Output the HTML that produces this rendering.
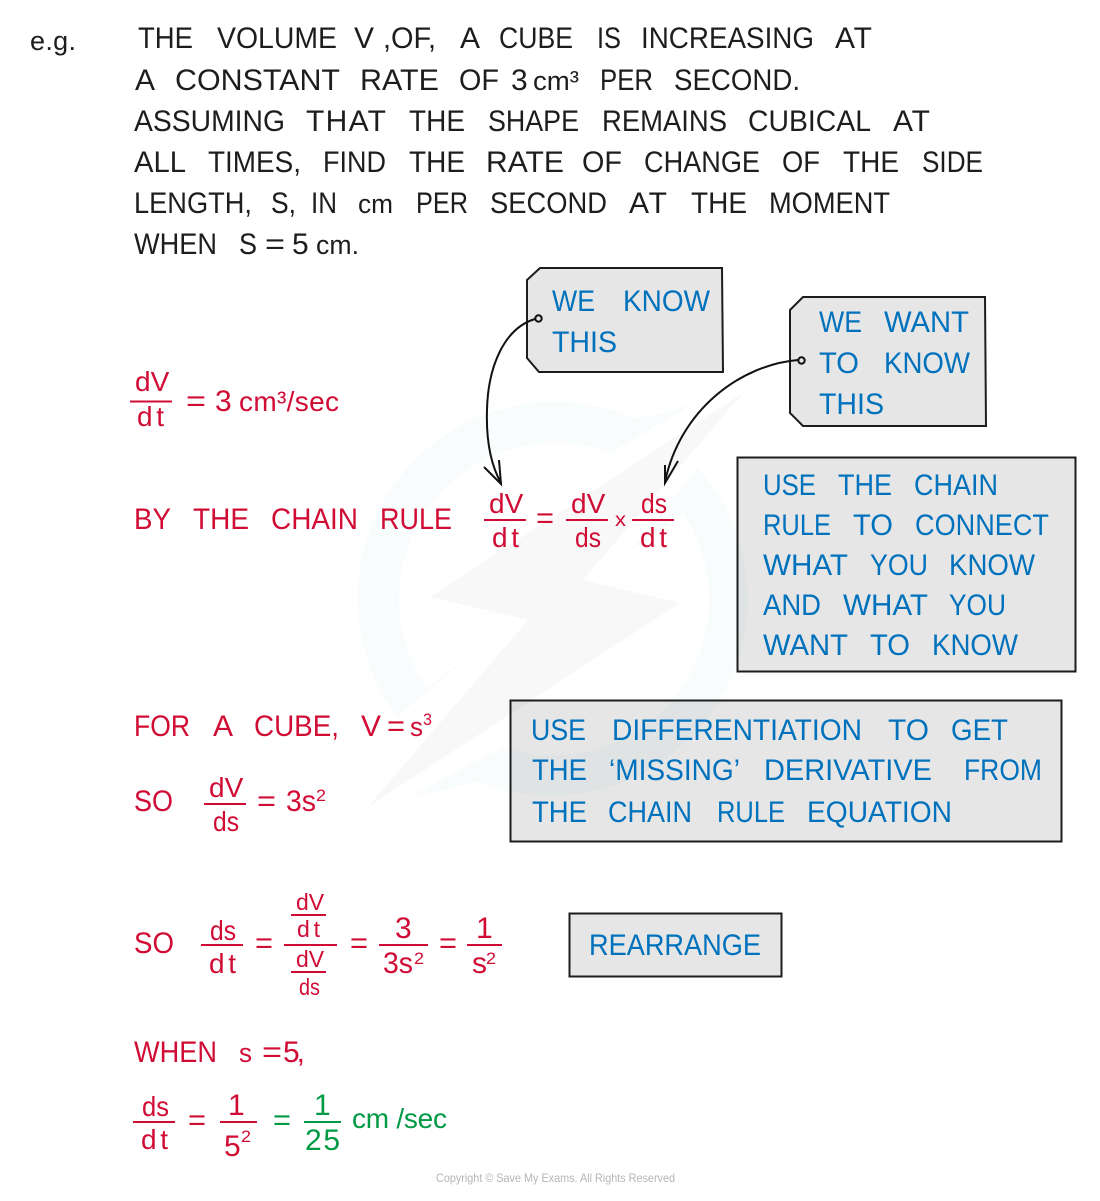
<!DOCTYPE html>
<html>
<head>
<meta charset="utf-8">
<style>
html,body{margin:0;padding:0;background:#fff;}
svg{display:block;}
text{font-family:"Liberation Sans",sans-serif;font-size:30px;transform:translate(0,-1px);}
.k text{fill:#1d1d1b;}
.b text{fill:#0071bc;}
.r text{fill:#d00c35;}
.g text{fill:#009a44;}
.r line{stroke:#d00c35;stroke-width:2;}
.g line{stroke:#009a44;stroke-width:2;}
.box{fill:#e6e6e6;stroke:#1d1d1b;stroke-width:2;}
.s{font-size:17px;}
</style>
</head>
<body>
<svg width="1100" height="1201" viewBox="0 0 1100 1201" xmlns="http://www.w3.org/2000/svg">
<rect width="1100" height="1201" fill="#fff"/>

<!-- problem text -->
<g class="k">
<text x="30" y="51" textLength="46" lengthAdjust="spacing" style="font-size:27px">e.g.</text>
<text x="138" y="49" textLength="55" lengthAdjust="spacingAndGlyphs">THE</text>
<text x="217" y="49" textLength="120" lengthAdjust="spacingAndGlyphs">VOLUME</text>
<text x="354" y="49">V</text>
<text x="383" y="49" textLength="53" lengthAdjust="spacingAndGlyphs">,OF,</text>
<text x="460" y="49">A</text>
<text x="499" y="49" textLength="74" lengthAdjust="spacingAndGlyphs">CUBE</text>
<text x="597" y="49" textLength="24" lengthAdjust="spacingAndGlyphs">IS</text>
<text x="641" y="49" textLength="173" lengthAdjust="spacingAndGlyphs">INCREASING</text>
<text x="835" y="49" textLength="37" lengthAdjust="spacing">AT</text>

<text x="135" y="91">A</text>
<text x="175" y="91" textLength="165" lengthAdjust="spacingAndGlyphs">CONSTANT</text>
<text x="360" y="91" textLength="79" lengthAdjust="spacingAndGlyphs">RATE</text>
<text x="459" y="91" textLength="40" lengthAdjust="spacingAndGlyphs">OF</text>
<text x="511" y="91">3</text>
<text x="533" y="91" textLength="46" lengthAdjust="spacingAndGlyphs" style="font-size:27px">cm³</text>
<text x="600" y="91" textLength="53" lengthAdjust="spacingAndGlyphs">PER</text>
<text x="674" y="91" textLength="126" lengthAdjust="spacingAndGlyphs">SECOND.</text>

<text x="134" y="132" textLength="151" lengthAdjust="spacingAndGlyphs">ASSUMING</text>
<text x="306" y="132" textLength="80" lengthAdjust="spacing">THAT</text>
<text x="409" y="132" textLength="56" lengthAdjust="spacingAndGlyphs">THE</text>
<text x="488" y="132" textLength="91" lengthAdjust="spacingAndGlyphs">SHAPE</text>
<text x="602" y="132" textLength="125" lengthAdjust="spacingAndGlyphs">REMAINS</text>
<text x="748" y="132" textLength="123" lengthAdjust="spacingAndGlyphs">CUBICAL</text>
<text x="893" y="132" textLength="37" lengthAdjust="spacing">AT</text>

<text x="134" y="173" textLength="52" lengthAdjust="spacingAndGlyphs">ALL</text>
<text x="208" y="173" textLength="93" lengthAdjust="spacingAndGlyphs">TIMES,</text>
<text x="323" y="173" textLength="63" lengthAdjust="spacingAndGlyphs">FIND</text>
<text x="409" y="173" textLength="56" lengthAdjust="spacingAndGlyphs">THE</text>
<text x="486" y="173" textLength="78" lengthAdjust="spacingAndGlyphs">RATE</text>
<text x="582" y="173" textLength="40" lengthAdjust="spacingAndGlyphs">OF</text>
<text x="644" y="173" textLength="116" lengthAdjust="spacingAndGlyphs">CHANGE</text>
<text x="782" y="173" textLength="38" lengthAdjust="spacingAndGlyphs">OF</text>
<text x="843" y="173" textLength="56" lengthAdjust="spacingAndGlyphs">THE</text>
<text x="922" y="173" textLength="61" lengthAdjust="spacingAndGlyphs">SIDE</text>

<text x="134" y="214" textLength="118" lengthAdjust="spacingAndGlyphs">LENGTH,</text>
<text x="271" y="214" textLength="25" lengthAdjust="spacingAndGlyphs">S,</text>
<text x="311" y="214" textLength="26" lengthAdjust="spacingAndGlyphs">IN</text>
<text x="358" y="214" textLength="35" lengthAdjust="spacingAndGlyphs" style="font-size:27px">cm</text>
<text x="416" y="214" textLength="52" lengthAdjust="spacingAndGlyphs">PER</text>
<text x="490" y="214" textLength="117" lengthAdjust="spacingAndGlyphs">SECOND</text>
<text x="629" y="214" textLength="38" lengthAdjust="spacing">AT</text>
<text x="691" y="214" textLength="56" lengthAdjust="spacingAndGlyphs">THE</text>
<text x="769" y="214" textLength="121" lengthAdjust="spacingAndGlyphs">MOMENT</text>

<text x="134" y="255" textLength="83" lengthAdjust="spacingAndGlyphs">WHEN</text>
<text x="239" y="255" textLength="18" lengthAdjust="spacingAndGlyphs">S</text>
<text x="265" y="255" textLength="20" lengthAdjust="spacingAndGlyphs">=</text>
<text x="292" y="255">5</text>
<text x="316" y="255" textLength="43" lengthAdjust="spacingAndGlyphs" style="font-size:27px">cm.</text>
</g>

<!-- boxes -->
<polygon class="box" points="527,280 540,268 722,268 723,372 539,372 527,358"/>
<polygon class="box" points="790,310 803,297 985,297 986,426 803,426 790,413"/>
<rect class="box" x="737.5" y="457.5" width="338" height="214"/>
<rect class="box" x="510.5" y="700.5" width="551" height="141"/>
<rect class="box" x="569.5" y="913.5" width="212" height="63"/>

<!-- watermark -->
<path d="M397,717 L483,645 L427,688 A156,156 0 0 1 610,453 L700,400 Q665,415 633,418 A197,197 0 0 0 397,717 Z" fill="#0071bc" fill-opacity=".022"/>
<path d="M628,553 L698,468 A197,197 0 0 1 478,782 L407,798 L503,747 A156,156 0 0 0 683,513 Z" fill="#0071bc" fill-opacity=".022"/>
<polygon points="743,393 430,597 528,620 368,807 680,603 583,580" fill="#000" fill-opacity=".028"/>

<!-- connectors -->
<g fill="none" stroke="#111" stroke-width="2">
<circle cx="538.5" cy="318.5" r="3.2"/>
<circle cx="801.5" cy="360.5" r="3.2"/>
<path d="M535,319 C505,328 488,365 487,410 C486,440 491,465 501,483"/>
<path d="M484,467 L501,484 L499,460"/>
<path d="M798,360 C740,365 680,410 665,482"/>
<path d="M665,465 L665,483 L678,461"/>
</g>

<!-- blue notes -->
<g class="b">
<text x="552" y="312" textLength="43" lengthAdjust="spacingAndGlyphs">WE</text>
<text x="623" y="312" textLength="87" lengthAdjust="spacingAndGlyphs">KNOW</text>
<text x="552" y="353" textLength="65" lengthAdjust="spacingAndGlyphs">THIS</text>

<text x="819" y="333" textLength="43" lengthAdjust="spacingAndGlyphs">WE</text>
<text x="884" y="333" textLength="85" lengthAdjust="spacingAndGlyphs">WANT</text>
<text x="819" y="374" textLength="40" lengthAdjust="spacingAndGlyphs">TO</text>
<text x="884" y="374" textLength="86" lengthAdjust="spacingAndGlyphs">KNOW</text>
<text x="819" y="415" textLength="65" lengthAdjust="spacingAndGlyphs">THIS</text>

<text x="763" y="496" textLength="53" lengthAdjust="spacingAndGlyphs">USE</text>
<text x="838" y="496" textLength="54" lengthAdjust="spacingAndGlyphs">THE</text>
<text x="914" y="496" textLength="84" lengthAdjust="spacingAndGlyphs">CHAIN</text>
<text x="763" y="536" textLength="68" lengthAdjust="spacingAndGlyphs">RULE</text>
<text x="853" y="536" textLength="40" lengthAdjust="spacingAndGlyphs">TO</text>
<text x="915" y="536" textLength="134" lengthAdjust="spacingAndGlyphs">CONNECT</text>
<text x="763" y="576" textLength="85" lengthAdjust="spacingAndGlyphs">WHAT</text>
<text x="870" y="576" textLength="58" lengthAdjust="spacingAndGlyphs">YOU</text>
<text x="949" y="576" textLength="86" lengthAdjust="spacingAndGlyphs">KNOW</text>
<text x="763" y="616" textLength="58" lengthAdjust="spacingAndGlyphs">AND</text>
<text x="843" y="616" textLength="85" lengthAdjust="spacingAndGlyphs">WHAT</text>
<text x="949" y="616" textLength="57" lengthAdjust="spacingAndGlyphs">YOU</text>
<text x="763" y="656" textLength="85" lengthAdjust="spacingAndGlyphs">WANT</text>
<text x="870" y="656" textLength="40" lengthAdjust="spacingAndGlyphs">TO</text>
<text x="932" y="656" textLength="86" lengthAdjust="spacingAndGlyphs">KNOW</text>

<text x="531" y="741" textLength="55" lengthAdjust="spacingAndGlyphs">USE</text>
<text x="612" y="741" textLength="250" lengthAdjust="spacingAndGlyphs">DIFFERENTIATION</text>
<text x="888" y="741" textLength="41" lengthAdjust="spacingAndGlyphs">TO</text>
<text x="951" y="741" textLength="57" lengthAdjust="spacingAndGlyphs">GET</text>
<text x="532" y="781" textLength="55" lengthAdjust="spacingAndGlyphs">THE</text>
<text x="609" y="781" textLength="131" lengthAdjust="spacingAndGlyphs">‘MISSING’</text>
<text x="764" y="781" textLength="168" lengthAdjust="spacingAndGlyphs">DERIVATIVE</text>
<text x="964" y="781" textLength="78" lengthAdjust="spacingAndGlyphs">FROM</text>
<text x="532" y="823" textLength="55" lengthAdjust="spacingAndGlyphs">THE</text>
<text x="608" y="823" textLength="84" lengthAdjust="spacingAndGlyphs">CHAIN</text>
<text x="717" y="823" textLength="68" lengthAdjust="spacingAndGlyphs">RULE</text>
<text x="807" y="823" textLength="145" lengthAdjust="spacingAndGlyphs">EQUATION</text>

<text x="589" y="956" textLength="172" lengthAdjust="spacingAndGlyphs">REARRANGE</text>
</g>

<!-- red working -->
<g class="r">
<text x="135" y="392" style="font-size:28px">dV</text>
<line x1="130" y1="401.5" x2="172" y2="401.5"/>
<text x="137" y="427" textLength="27" lengthAdjust="spacing" style="font-size:28px">dt</text>
<text x="186" y="412" textLength="20" lengthAdjust="spacingAndGlyphs">=</text>
<text x="215" y="412">3</text>
<text x="239" y="412" textLength="100" lengthAdjust="spacing" style="font-size:28px">cm³/sec</text>

<text x="134" y="530" textLength="37" lengthAdjust="spacingAndGlyphs">BY</text>
<text x="193" y="530" textLength="56" lengthAdjust="spacingAndGlyphs">THE</text>
<text x="271" y="530" textLength="87" lengthAdjust="spacingAndGlyphs">CHAIN</text>
<text x="380" y="530" textLength="72" lengthAdjust="spacingAndGlyphs">RULE</text>

<text x="489" y="514" style="font-size:28px">dV</text>
<line x1="484" y1="520" x2="526" y2="520"/>
<text x="492" y="548" textLength="27" lengthAdjust="spacing" style="font-size:28px">dt</text>
<text x="536" y="529" textLength="18" lengthAdjust="spacingAndGlyphs">=</text>
<text x="571" y="514" style="font-size:28px">dV</text>
<line x1="566" y1="520" x2="608" y2="520"/>
<text x="575" y="548" textLength="26" lengthAdjust="spacingAndGlyphs" style="font-size:28px">ds</text>
<text x="615" y="527" textLength="11" lengthAdjust="spacingAndGlyphs" style="font-size:19px">x</text>
<text x="641" y="514" textLength="26" lengthAdjust="spacingAndGlyphs" style="font-size:28px">ds</text>
<line x1="632" y1="520" x2="674" y2="520"/>
<text x="640" y="548" textLength="27" lengthAdjust="spacing" style="font-size:28px">dt</text>

<text x="134" y="737" textLength="56" lengthAdjust="spacingAndGlyphs">FOR</text>
<text x="213" y="737">A</text>
<text x="254" y="737" textLength="85" lengthAdjust="spacingAndGlyphs">CUBE,</text>
<text x="361" y="737">V</text>
<text x="387" y="737" textLength="18" lengthAdjust="spacingAndGlyphs">=</text>
<text x="410" y="737" textLength="13" lengthAdjust="spacingAndGlyphs" style="font-size:27px">s</text>
<text x="423" y="726" textLength="9" lengthAdjust="spacingAndGlyphs" class="s">3</text>

<text x="134" y="812" textLength="39" lengthAdjust="spacingAndGlyphs">SO</text>
<text x="209" y="798" style="font-size:28px">dV</text>
<line x1="204" y1="804" x2="246" y2="804"/>
<text x="213" y="832" textLength="26" lengthAdjust="spacingAndGlyphs" style="font-size:28px">ds</text>
<text x="257" y="812" textLength="19" lengthAdjust="spacingAndGlyphs">=</text>
<text x="286" y="812" textLength="30" lengthAdjust="spacingAndGlyphs">3s</text>
<text x="316" y="802" textLength="10" lengthAdjust="spacingAndGlyphs" class="s">2</text>

<text x="134" y="954" textLength="40" lengthAdjust="spacingAndGlyphs">SO</text>
<text x="210" y="941" textLength="26" lengthAdjust="spacingAndGlyphs" style="font-size:28px">ds</text>
<line x1="201" y1="945" x2="243" y2="945"/>
<text x="209" y="974" textLength="27" lengthAdjust="spacing" style="font-size:28px">dt</text>
<text x="255" y="954" textLength="18" lengthAdjust="spacingAndGlyphs">=</text>
<text x="296" y="911" style="font-size:23px">dV</text>
<line x1="291" y1="915" x2="326" y2="915"/>
<text x="297" y="938" textLength="23" lengthAdjust="spacing" style="font-size:23px">dt</text>
<line x1="284" y1="945" x2="337" y2="945"/>
<text x="296" y="968" style="font-size:23px">dV</text>
<line x1="291" y1="972" x2="326" y2="972"/>
<text x="299" y="996" textLength="21" lengthAdjust="spacingAndGlyphs" style="font-size:23px">ds</text>
<text x="350" y="954" textLength="18" lengthAdjust="spacingAndGlyphs">=</text>
<text x="395" y="939">3</text>
<line x1="379" y1="945" x2="428" y2="945"/>
<text x="383" y="974" textLength="30" lengthAdjust="spacingAndGlyphs">3s</text>
<text x="414" y="965" textLength="10" lengthAdjust="spacingAndGlyphs" class="s">2</text>
<text x="439" y="954" textLength="18" lengthAdjust="spacingAndGlyphs">=</text>
<text x="476" y="939">1</text>
<line x1="467" y1="945" x2="502" y2="945"/>
<text x="472" y="974">s</text>
<text x="486" y="965" textLength="10" lengthAdjust="spacingAndGlyphs" class="s">2</text>

<text x="134" y="1063" textLength="83" lengthAdjust="spacingAndGlyphs">WHEN</text>
<text x="239" y="1063" textLength="13" lengthAdjust="spacingAndGlyphs" style="font-size:27px">s</text>
<text x="262" y="1063" textLength="20" lengthAdjust="spacingAndGlyphs">=</text>
<text x="283" y="1063" textLength="22" lengthAdjust="spacing">5,</text>

<text x="142" y="1117" textLength="27" lengthAdjust="spacingAndGlyphs" style="font-size:28px">ds</text>
<line x1="133" y1="1122" x2="175" y2="1122"/>
<text x="141" y="1150" textLength="27" lengthAdjust="spacing" style="font-size:28px">dt</text>
<text x="188" y="1131" textLength="18" lengthAdjust="spacingAndGlyphs">=</text>
<text x="228" y="1116">1</text>
<line x1="220" y1="1122" x2="257" y2="1122"/>
<text x="224" y="1157">5</text>
<text x="241" y="1143" textLength="10" lengthAdjust="spacingAndGlyphs" class="s">2</text>
</g>

<!-- green answer -->
<g class="g">
<text x="273" y="1131" textLength="18" lengthAdjust="spacingAndGlyphs">=</text>
<text x="314" y="1116">1</text>
<line x1="304" y1="1122" x2="341" y2="1122"/>
<text x="305" y="1151" textLength="35" lengthAdjust="spacing">25</text>
<text x="352" y="1129" textLength="95" lengthAdjust="spacing" style="font-size:28px">cm /sec</text>
</g>

<text x="436" y="1183" textLength="239" lengthAdjust="spacingAndGlyphs" fill="#b5b5b5" style="font-size:12px">Copyright © Save My Exams. All Rights Reserved</text>
</svg>
</body>
</html>
